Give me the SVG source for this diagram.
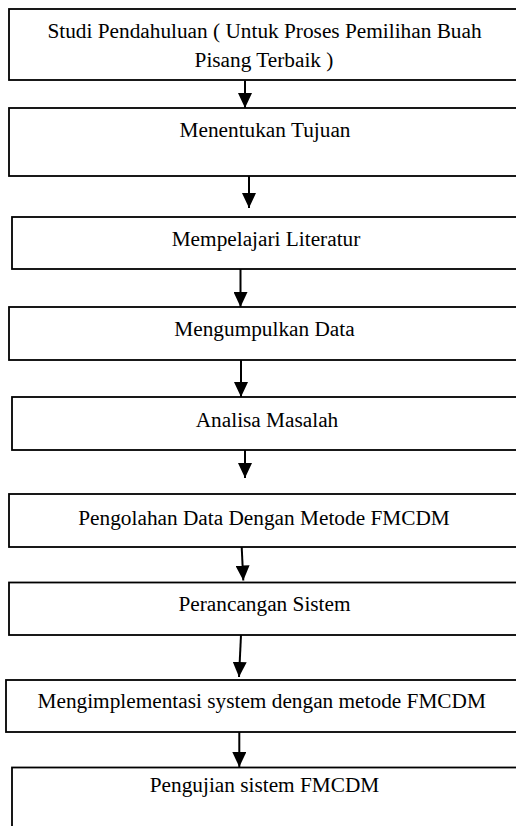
<svg xmlns="http://www.w3.org/2000/svg" width="516" height="826" viewBox="0 0 516 826">
<style>
.box{fill:#fff;stroke:#000;stroke-width:1.8}
.t{font-family:"Liberation Serif","Times New Roman",serif;font-size:21.3px;fill:#000;text-anchor:middle}
.c{stroke:#000;stroke-width:2;fill:none;marker-end:url(#ah)}
</style>
<defs>
<marker id="ah" markerUnits="userSpaceOnUse" markerWidth="15" markerHeight="14" refX="15" refY="7" orient="auto" viewBox="0 0 15 14">
<path d="M0,0 L15,7 L0,14 z" fill="#000"/>
</marker>
</defs>
<rect width="516" height="826" fill="#fff"/>
<g id="n1"><rect class="box" x="9" y="9" width="530" height="71"/><text class="t" x="264.5" y="38">Studi Pendahuluan ( Untuk Proses Pemilihan Buah</text><text class="t" x="264" y="67">Pisang Terbaik )</text></g>
<g id="n2"><rect class="box" x="9" y="108" width="530" height="68"/><text class="t" x="265" y="137">Menentukan Tujuan</text></g>
<g id="n3"><rect class="box" x="12" y="217" width="530" height="52"/><text class="t" x="266" y="246">Mempelajari Literatur</text></g>
<g id="n4"><rect class="box" x="9" y="307" width="530" height="53"/><text class="t" x="264.5" y="336">Mengumpulkan Data</text></g>
<g id="n5"><rect class="box" x="12" y="397" width="530" height="53"/><text class="t" x="267" y="427">Analisa Masalah</text></g>
<g id="n6"><rect class="box" x="9" y="494" width="530" height="53"/><text class="t" x="264" y="525">Pengolahan Data Dengan Metode FMCDM</text></g>
<g id="n7"><rect class="box" x="9" y="582.5" width="530" height="52.5"/><text class="t" x="264.5" y="611">Perancangan Sistem</text></g>
<g id="n8"><rect class="box" x="6" y="680" width="530" height="52"/><text class="t" x="261.7" y="708">Mengimplementasi system dengan metode FMCDM</text></g>
<g id="n9"><rect class="box" x="12" y="767.5" width="530" height="80"/><text class="t" x="264.5" y="792">Pengujian sistem FMCDM</text></g>
<g id="connectors">
<path class="c" d="M245,80.5 L245,108"/>
<path class="c" d="M249,176 L249,208"/>
<path class="c" d="M240.5,269 L240.5,307"/>
<path class="c" d="M241,360 L241,397"/>
<path class="c" d="M245,450 L245,478"/>
<path class="c" d="M241.7,547 L243.3,580.5"/>
<path class="c" d="M241,635 L239,677"/>
<path class="c" d="M239.3,732 L239.3,767"/>
</g>
</svg>
